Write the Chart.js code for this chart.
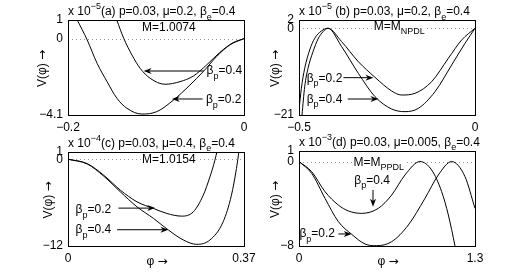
<!DOCTYPE html>
<html>
<head>
<meta charset="utf-8">
<script src="https://cdn.jsdelivr.net/npm/chart.js@4"></script>
<style>
html, body { margin: 0; padding: 0; background: #fff; }
#wrap { position: relative; width: 524px; height: 279px; }
#wrap canvas { position: absolute; left: 0; top: 0; }
</style>
</head>
<body>
<div id="wrap">
	<canvas id="ca" width="524" height="279"></canvas>
	<canvas id="cb" width="524" height="279"></canvas>
	<canvas id="cc" width="524" height="279"></canvas>
	<canvas id="cd" width="524" height="279"></canvas>
</div>
<script>
// (a) M=1.0074, scale x 10^-5
var aPhi02 = [-0.1895, -0.1782, -0.1669, -0.1556, -0.1443, -0.1330, -0.1160, -0.0991, -0.0802, -0.0614, -0.0463, -0.0313, -0.0162, 0];
var aV02   = [1.0, -0.07, -1.33, -2.31, -3.21, -3.74, -4.05, -3.92, -3.30, -2.49, -1.77, -0.97, -0.34, 0];
var aPhi04 = [-0.1446, -0.1367, -0.1273, -0.1179, -0.1066, -0.0897, -0.0727, -0.0576, -0.0426, -0.0275, -0.0125, 0];
var aV04   = [1.0, 0.02, -0.88, -1.60, -2.13, -2.45, -2.31, -2.01, -1.42, -0.74, -0.22, 0];
var aXTicks = [-0.2, 0];
var aYTicks = [-4.1, 0, 1];

// (b) M=M_NPDL, scale x 10^-5
var bPhi02 = [-0.5, -0.4933, -0.4838, -0.4696, -0.4554, -0.4364, -0.4176, -0.3788, -0.3314, -0.2841, -0.2367, -0.2083, -0.1705, -0.1231, -0.0758, -0.0379, 0];
var bV02   = [-19.79, -14.54, -9.70, -5.26, -2.44, -0.66, 0, -3.25, -8.09, -11.88, -15.19, -16.16, -15.75, -12.93, -7.28, -2.84, 0];
var bPhi04 = [-0.4915, -0.4838, -0.4744, -0.4602, -0.4460, -0.4318, -0.4176, -0.3788, -0.3314, -0.2841, -0.2367, -0.1989, -0.1610, -0.1136, -0.0663, -0.0284, 0];
var bV04   = [-21.0, -14.14, -9.70, -5.67, -2.60, -0.83, 0, -4.46, -10.91, -16.56, -19.55, -20.19, -19.39, -15.35, -8.89, -3.65, 0];
var bXTicks = [-0.5, 0];
var bYTicks = [-21, 0, 2];

// (c) M=1.0154, scale x 10^-4
var cPhi02 = [0, 0.0404, 0.0753, 0.1101, 0.1450, 0.1798, 0.2077, 0.2391, 0.2635, 0.2844, 0.2983, 0.3088, 0.3137];
var cV02   = [0, -0.61, -2.22, -4.28, -5.89, -6.81, -7.50, -7.87, -7.27, -4.97, -2.45, -0.15, 1.23];
var cPhi04 = [0, 0.0404, 0.0753, 0.1101, 0.1450, 0.1798, 0.2112, 0.2426, 0.2704, 0.2983, 0.3262, 0.3436, 0.3541, 0.3597];
var cV04   = [0, -0.65, -2.35, -4.51, -6.58, -8.19, -9.80, -11.17, -11.77, -11.17, -8.65, -4.97, -1.30, 1.23];
var cXTicks = [0, 0.37];
var cYTicks = [-12, 0, 1];

// (d) M=M_PPDL, scale x 10^-3
var dPhi02 = [0, 0.0936, 0.1920, 0.2905, 0.3890, 0.4875, 0.5737, 0.6845, 0.8076, 0.9307, 1.0291, 1.1276, 1.2261, 1.3];
var dV02   = [0, -1.12, -3.48, -5.69, -6.89, -7.81, -7.97, -7.59, -6.01, -3.48, -1.27, 0, -1.43, -4.43];
var dPhi04 = [0, 0.0936, 0.1920, 0.2905, 0.3644, 0.4629, 0.5860, 0.6845, 0.7829, 0.8937, 0.9799, 1.0537, 1.1030, 1.1522, 1.1645];
var dV04   = [0, -0.96, -2.85, -4.12, -4.68, -4.91, -4.43, -3.17, -1.27, 0, -0.80, -2.85, -5.06, -8.0, -8.85];
var dXTicks = [0, 1.3];
var dYTicks = [-8, 0, 1];

var FONT = '"Liberation Sans", Arial, Helvetica, sans-serif';
var ARROWFONT = '"DejaVu Sans", sans-serif';
var FS = 12;
var YW = 40, XH = 30;

function pts(xs, ys) {
	return xs.map(function(x, i){ return { x: x, y: ys[i] }; });
}

function fmt(v) {
	return String(v).replace('-', '\u2212');
}

// text made of normal (0) / superscript (1) / subscript (-1) pieces, optional font
function drawRuns(ctx, x, y, parts, dry) {
	parts.forEach(function(p){
		var s = p[1] === 0 ? FS : 9;
		var dy = p[1] === 1 ? -6 : (p[1] === -1 ? 4.5 : 0);
		ctx.font = s + 'px ' + (p[2] || FONT);
		if (!dry) ctx.fillText(p[0], x, y + dy);
		x += ctx.measureText(p[0]).width;
	});
	return x;
}

function arrow(ctx, x1, y1, x2, y2) {
	var a = Math.atan2(y2 - y1, x2 - x1), L = 8, W = 3;
	var c = Math.cos(a), s = Math.sin(a);
	ctx.beginPath();
	ctx.moveTo(x1, y1);
	ctx.lineTo(x2 - L * 0.7 * c, y2 - L * 0.7 * s);
	ctx.stroke();
	ctx.beginPath();
	ctx.moveTo(x2, y2);
	ctx.lineTo(x2 - L * c + W * s, y2 - L * s - W * c);
	ctx.lineTo(x2 - L * 0.7 * c, y2 - L * 0.7 * s);
	ctx.lineTo(x2 - L * c - W * s, y2 - L * s + W * c);
	ctx.closePath();
	ctx.fill();
}

function centred(ctx, x, y, parts) {
	var w = drawRuns(ctx, 0, 0, parts, true);
	drawRuns(ctx, x - w / 2, y, parts);
}

function deco(p) {
	return {
		id: 'deco',
		beforeDatasetsDraw: function(chart) {
			var ctx = chart.ctx, a = chart.chartArea, sx = chart.scales.x, sy = chart.scales.y;
			var y0 = Math.round(sy.getPixelForValue(0)) + 0.5;
			ctx.save();
			ctx.strokeStyle = '#9a9a9a';
			ctx.lineWidth = 1;
			ctx.setLineDash([1, 3]);
			ctx.beginPath();
			ctx.moveTo(a.left, y0);
			ctx.lineTo(a.right, y0);
			ctx.stroke();
			ctx.setLineDash([]);

			// M label
			var mx = sx.getPixelForValue(p.m.x), my = sy.getPixelForValue(p.m.y);
			var w = drawRuns(ctx, mx, my, p.m.parts, true) - mx;
			ctx.fillStyle = '#fff';
			ctx.fillRect(mx - 1, my - 9, w + 2, 10);
			ctx.fillStyle = '#000';
			ctx.textBaseline = 'alphabetic';
			ctx.textAlign = 'left';
			drawRuns(ctx, mx, my, p.m.parts);
			ctx.restore();
		},
		afterDraw: function(chart) {
			var ctx = chart.ctx, a = chart.chartArea, sx = chart.scales.x, sy = chart.scales.y;
			ctx.save();
			ctx.strokeStyle = '#000';
			ctx.fillStyle = '#000';
			ctx.lineWidth = 1;
			ctx.strokeRect(Math.round(a.left) + 0.5, Math.round(a.top) + 0.5,
				Math.round(a.right - a.left), Math.round(a.bottom - a.top));

			ctx.textBaseline = 'alphabetic';
			ctx.textAlign = 'left';
			drawRuns(ctx, a.left, a.top - p.titleGap, p.title);

			p.notes.forEach(function(n){
				drawRuns(ctx, sx.getPixelForValue(n.x), sy.getPixelForValue(n.y), n.parts);
				arrow(ctx, sx.getPixelForValue(n.tail[0]), sy.getPixelForValue(n.tail[1]),
					sx.getPixelForValue(n.tip[0]), sy.getPixelForValue(n.tip[1]));
			});

			ctx.save();
			ctx.translate(p.ylabX, (a.top + a.bottom) / 2 + 1);
			ctx.rotate(-Math.PI / 2);
			centred(ctx, 0, 4, [['V(\u03C6) ', 0], ['\u2192', 0, ARROWFONT]]);
			ctx.restore();
			if (p.xlab) {
				centred(ctx, (a.left + a.right) / 2 + 1, a.bottom + 19, [['\u03C6 ', 0], ['\u2192', 0, ARROWFONT]]);
			}
			ctx.restore();
		}
	};
}

function makeChart(p) {
	var xt = p.xt, yt = p.yt;
	new Chart(document.getElementById(p.id), {
		type: 'line',
		data: {
			datasets: [
				{ label: 'beta_p=0.2', data: pts(p.s02[0], p.s02[1]) },
				{ label: 'beta_p=0.4', data: pts(p.s04[0], p.s04[1]) }
			]
		},
		options: {
			responsive: false,
			animation: false,
			layout: {
				padding: {
					left: p.box[0] - YW,
					top: p.box[1],
					right: 524 - p.box[2],
					bottom: 279 - p.box[3] - XH
				}
			},
			elements: {
				point: { radius: 0 },
				line: { borderColor: '#000', borderWidth: 1, cubicInterpolationMode: 'monotone', fill: false }
			},
			scales: {
				x: {
					type: 'linear',
					min: xt[0], max: xt[xt.length - 1],
					afterFit: function(s){ s.height = XH; },
					afterBuildTicks: function(s){ s.ticks = xt.map(function(v){ return { value: v }; }); },
					grid: { display: false, drawTicks: false },
					border: { display: false },
					ticks: {
						autoSkip: false, maxRotation: 0, padding: 5, color: '#000',
						font: { family: FONT, size: FS },
						callback: function(v){ return fmt(v); }
					}
				},
				y: {
					type: 'linear',
					min: yt[0], max: yt[yt.length - 1],
					afterFit: function(s){ s.width = YW; },
					afterBuildTicks: function(s){ s.ticks = yt.map(function(v){ return { value: v }; }); },
					grid: { display: false, drawTicks: false },
					border: { display: false },
					ticks: {
						autoSkip: false, padding: 5, color: '#000',
						font: { family: FONT, size: FS },
						callback: function(v){ return fmt(v); }
					}
				}
			},
			plugins: {
				legend: { display: false },
				tooltip: { enabled: false }
			}
		},
		plugins: [deco(p)]
	});
}

var bp = function(v){ return [['\u03B2', 0], ['p', -1], ['=' + v, 0]]; };

makeChart({
	id: 'ca', box: [68, 20, 244, 115], xt: aXTicks, yt: aYTicks,
	s02: [aPhi02, aV02], s04: [aPhi04, aV04],
	titleGap: 5,
	title: [['x 10', 0], ['\u22125', 1], ['(a) p=0.03, \u03BC=0.2, \u03B2', 0], ['e', -1], ['=0.4', 0]],
	ylabX: 41.5, xlab: false,
	m: { x: -0.1159, y: 0.426, parts: [['M=1.0074', 0]] },
	notes: [
		{ x: -0.0425, y: -1.899, parts: bp('0.4'), tail: [-0.0455, -1.738], tip: [-0.1141, -1.738] },
		{ x: -0.0433, y: -3.474, parts: bp('0.2'), tail: [-0.0470, -3.241], tip: [-0.0821, -3.241] }
	]
});

makeChart({
	id: 'cb', box: [299, 20, 475, 115], xt: bXTicks, yt: bYTicks,
	s02: [bPhi02, bV02], s04: [bPhi04, bV04],
	titleGap: 5,
	title: [['x 10', 0], ['\u22125', 1], [' (b) p=0.03, \u03BC=0.2, \u03B2', 0], ['e', -1], ['=0.4', 0]],
	ylabX: 275.3, xlab: false,
	m: { x: -0.2878, y: -0.30, parts: [['M=M', 0], ['NPDL', -1]] },
	notes: [
		{ x: -0.4781, y: -12.93, parts: bp('0.2'), tail: [-0.3739, -11.96], tip: [-0.2886, -11.96] },
		{ x: -0.4781, y: -18.01, parts: bp('0.4'), tail: [-0.3616, -17.13], tip: [-0.2744, -17.13] }
	]
});

makeChart({
	id: 'cc', box: [68, 152, 244, 246], xt: cXTicks, yt: cYTicks,
	s02: [cPhi02, cV02], s04: [cPhi04, cV04],
	titleGap: 5.5,
	title: [['x 10', 0], ['\u22124', 1], ['(c) p=0.03, \u03BC=0.4, \u03B2', 0], ['e', -1], ['=0.4', 0]],
	ylabX: 48.3, xlab: true,
	m: { x: 0.1555, y: -0.546, parts: [['M=1.0154', 0]] },
	notes: [
		{ x: 0.016, y: -7.45, parts: bp('0.2'), tail: [0.106, -6.76], tip: [0.1833, -6.76] },
		{ x: 0.016, y: -10.21, parts: bp('0.4'), tail: [0.1033, -9.75], tip: [0.2111, -9.75] }
	]
});

makeChart({
	id: 'cd', box: [299, 151, 475, 246], xt: dXTicks, yt: dYTicks,
	s02: [dPhi02, dV02], s04: [dPhi04, dV04],
	titleGap: 5.5,
	title: [['x 10', 0], ['\u22123', 1], ['(d) p=0.03, \u03BC=0.005, \u03B2', 0], ['e', -1], ['=0.4', 0]],
	ylabX: 275, xlab: true,
	m: { x: 0.402, y: -0.393, parts: [['M=M', 0], ['PPDL', -1]] },
	notes: [
		{ x: 0.409, y: -2.126, parts: bp('0.4'), tail: [0.5466, -2.695], tip: [0.5466, -4.277] },
		{ x: 0.003, y: -7.18, parts: bp('0.2'), tail: [0.291, -6.86], tip: [0.389, -6.86] }
	]
});
</script>
</body>
</html>
